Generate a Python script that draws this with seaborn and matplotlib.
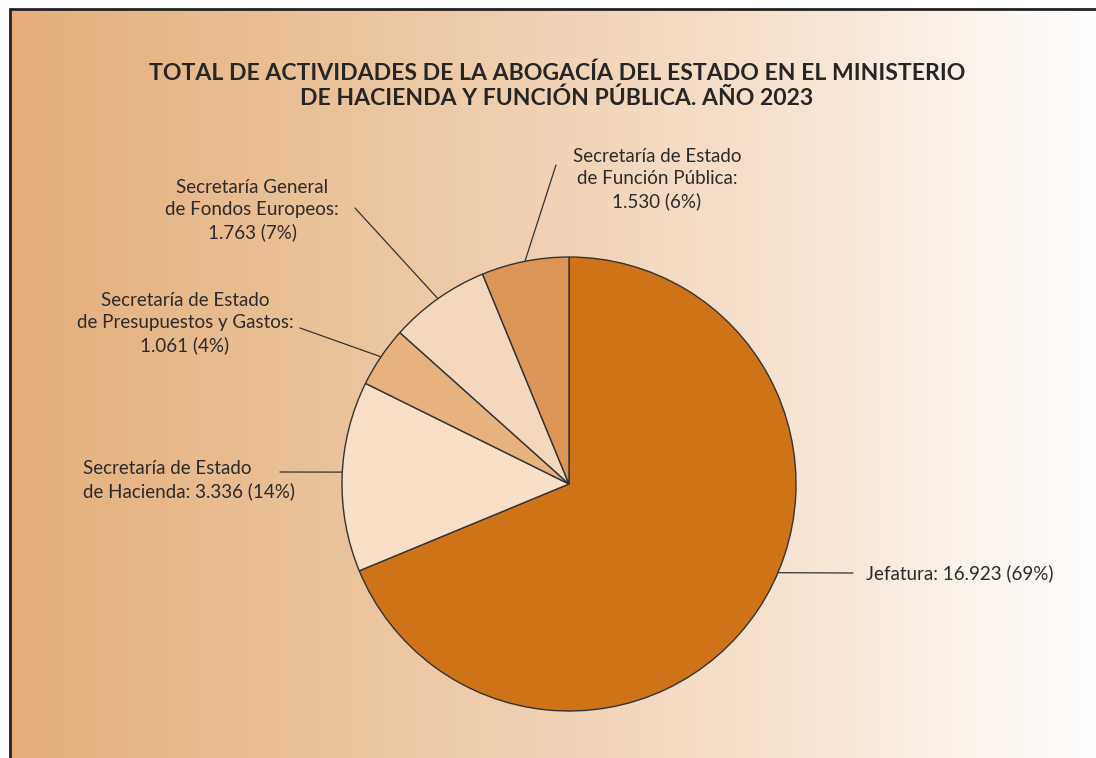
import numpy as np
import seaborn as sns
import matplotlib.pyplot as plt
from matplotlib.colors import LinearSegmentedColormap

# datos
labels = [
    "Jefatura: 16.923 (69%)",
    "Secretaría de Estado\nde Hacienda: 3.336 (14%)",
    "Secretaría de Estado\nde Presupuestos y Gastos:\n1.061 (4%)",
    "Secretaría General\nde Fondos Europeos:\n1.763 (7%)",
    "Secretaría de Estado\nde Función Pública:\n1.530 (6%)",
]
values = [16923, 3336, 1061, 1763, 1530]
colors = ["#CE7318", "#F7DFC8", "#E8B27F", "#F4D8BE", "#DD9657"]

title = ("TOTAL DE ACTIVIDADES DE LA ABOGACÍA DEL ESTADO EN EL MINISTERIO\n"
         "DE HACIENDA Y FUNCIÓN PÚBLICA. AÑO 2023")

sns.set_theme(style="white")
plt.rcParams["font.family"] = ["Lato", "DejaVu Sans"]

W, H = 1096, 758
fig = plt.figure(figsize=(W / 100, H / 100), dpi=100)
fig.patch.set_facecolor("white")

# fondo degradado
bg = fig.add_axes([10 / W, 0, 1 - 10 / W, 1 - 9 / H])
cmap = LinearSegmentedColormap.from_list(
    "fondo", [(0, "#E5AE7B"), (0.3, "#EBC39A"), (0.55, "#F2D6BB"),
              (0.78, "#F8E8DA"), (1, "#FFFFFF")])
bg.imshow(np.linspace(0, 1, 512)[None, :], aspect="auto", cmap=cmap,
          extent=[0, 1, 0, 1])
bg.set_axis_off()

# marco (arriba e izquierda)
fig.add_artist(plt.Line2D([10 / W, 1], [1 - 9 / H, 1 - 9 / H], color="#222222",
                          lw=2, transform=fig.transFigure))
fig.add_artist(plt.Line2D([10 / W, 10 / W], [0, 1 - 9 / H], color="#222222",
                          lw=2, transform=fig.transFigure))

fig.text(557 / W, 1 - 86 / H, title, ha="center", va="center", fontsize=16.6,
         fontweight="bold", color="#262626", linespacing=1.2)

# tarta
cx, cy, r = 569, 484, 227
ax = fig.add_axes([(cx - r) / W, (H - cy - r) / H, 2 * r / W, 2 * r / H])
wedges, _ = ax.pie(values, colors=colors, startangle=90, counterclock=False,
                   radius=1,
                   wedgeprops=dict(edgecolor="#333333", linewidth=1.0))
ax.set_xlim(-1, 1)
ax.set_ylim(-1, 1)
ax.set_aspect("equal")
ax.set_axis_off()

# etiquetas con linea guia (posiciones en pixeles de la figura)
text_pos = [(866, 573), (83, 480), (185, 323), (252, 210), (657, 179)]
line_end = [(853, 573), (280, 472), (300, 328), (355, 208), (556, 165)]
text_ha = ["left", "left", "center", "center", "center"]
anchor_override = {0: -23, 1: 177}

for i, w in enumerate(wedges):
    ang = anchor_override.get(i, (w.theta1 + w.theta2) / 2)
    x0 = np.cos(np.radians(ang))
    y0 = np.sin(np.radians(ang))
    ex, ey = line_end[i]
    tx, ty = text_pos[i]
    fig_tr = fig.transFigure
    p_end = ax.transData.inverted().transform(
        fig_tr.transform((ex / W, 1 - ey / H)))
    ax.plot([x0, p_end[0]], [y0, p_end[1]], color="#333333", lw=0.9,
            clip_on=False)
    fig.text(tx / W, 1 - ty / H, labels[i], ha=text_ha[i], va="center",
             fontsize=13.5, color="#2B2B2B", linespacing=1.38,
             multialignment=text_ha[i])

fig.savefig("out.png", dpi=100)
